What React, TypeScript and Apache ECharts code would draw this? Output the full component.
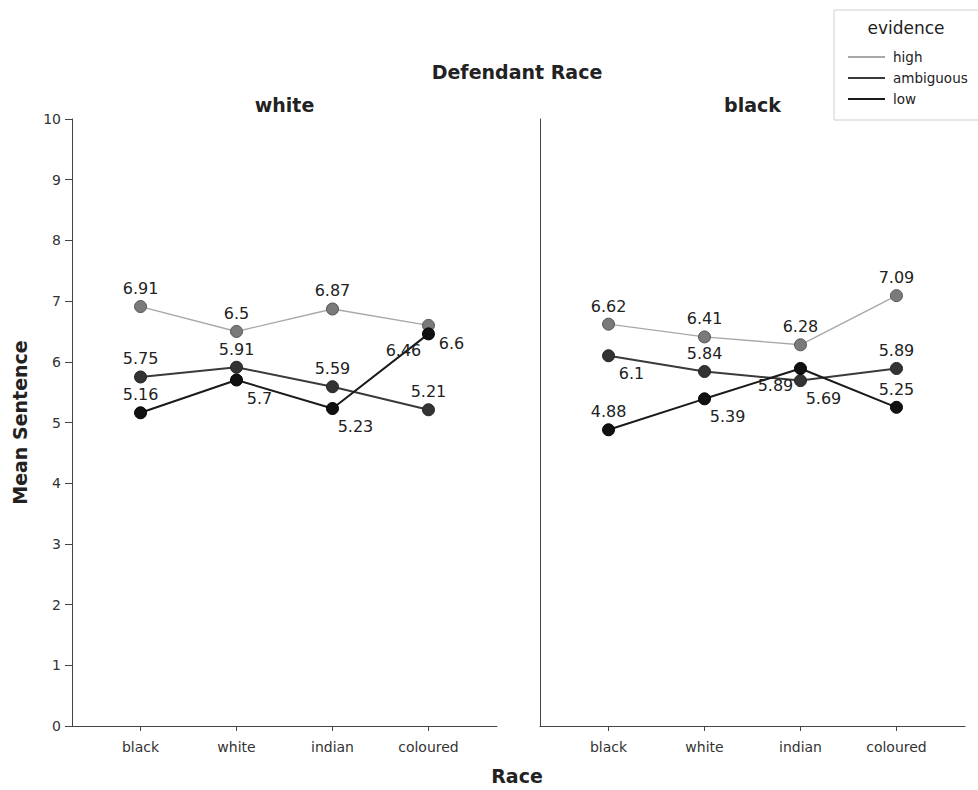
import React, { useEffect, useRef } from "react";
import * as echarts from "echarts";

const victimRace = ["black", "white", "indian", "coloured"];
const panels = ["white", "black"];
const evidenceLevels = ["high", "ambiguous", "low"];
const yTicks = [0, 1, 2, 3, 4, 5, 6, 7, 8, 9, 10];

// Defendant race: white
const whiteHigh = [6.91, 6.5, 6.87, 6.6];
const whiteAmbiguous = [5.75, 5.91, 5.59, 5.21];
const whiteLow = [5.16, 5.7, 5.23, 6.46];

// Defendant race: black
const blackHigh = [6.62, 6.41, 6.28, 7.09];
const blackAmbiguous = [6.1, 5.84, 5.69, 5.89];
const blackLow = [4.88, 5.39, 5.89, 5.25];

const panelData: Record<string, number[][]> = {
  white: [whiteHigh, whiteAmbiguous, whiteLow],
  black: [blackHigh, blackAmbiguous, blackLow],
};

// label placement codes (style only)
const labelPlacement: Record<string, string[][]> = {
  white: [
    ["t", "t", "t", "br"],
    ["t", "t", "t", "t"],
    ["t", "br", "br", "bl"],
  ],
  black: [
    ["t", "t", "t", "t"],
    ["br", "t", "br", "t"],
    ["t", "br", "bl", "t"],
  ],
};
const offsets: Record<string, number[]> = {
  t: [0, -18],
  br: [23, 18],
  bl: [-25, 17],
};

const lineColors = ["#a8a8a8", "#3a3a3a", "#1a1a1a"];
const lineWidths = [1.4, 2, 2];
const pointColors = ["#7a7a7a", "#333333", "#111111"];
const pointBorders = ["#555", "#222", "#000"];

const FONT = "DejaVu Sans, Verdana, sans-serif";

export default function App() {
  const ref = useRef<HTMLDivElement>(null);
  useEffect(() => {
    if (!ref.current) return;
    const chart = echarts.init(ref.current, null, { renderer: "svg" });
    const gridTop = 119;
    const gridHeight = 607;
    const gridWidth = 425;
    const grids = [
      { left: 72, top: gridTop, width: gridWidth, height: gridHeight },
      { left: 540, top: gridTop, width: gridWidth, height: gridHeight },
    ];
    const xAxes = panels.map((_, gi) => ({
      type: "value",
      gridIndex: gi,
      min: -0.714,
      max: 3.714,
      axisLine: { show: true, onZero: false, lineStyle: { color: "#444", width: 1 } },
      axisTick: {
        show: true,
        customValues: [0, 1, 2, 3],
        length: 5,
        lineStyle: { color: "#444" },
      },
      axisLabel: {
        show: true,
        customValues: [0, 1, 2, 3],
        formatter: (v: number) => victimRace[Math.round(v)] ?? "",
        fontSize: 14,
        color: "#333",
        fontFamily: FONT,
        margin: 14,
      },
      splitLine: { show: false },
    }));
    const yAxes = panels.map((_, gi) => ({
      type: "value",
      gridIndex: gi,
      min: yTicks[0],
      max: yTicks[yTicks.length - 1],
      interval: 1,
      axisLine: { show: true, onZero: false, lineStyle: { color: "#444", width: 1 } },
      axisTick: { show: gi === 0, length: 7, lineStyle: { color: "#444" } },
      axisLabel: {
        show: gi === 0,
        fontSize: 14,
        color: "#333",
        fontFamily: FONT,
        margin: 11,
      },
      splitLine: { show: false },
      name: gi === 0 ? "Mean Sentence" : "",
      nameLocation: "middle",
      nameGap: 43,
      nameTextStyle: {
        fontSize: 19,
        fontWeight: "bold",
        color: "#222",
        fontFamily: FONT,
      },
    }));
    const series: any[] = [];
    panels.forEach((p, gi) => {
      evidenceLevels.forEach((lvl, si) => {
        const vals = panelData[p][si];
        series.push({
          type: "line",
          name: lvl,
          xAxisIndex: gi,
          yAxisIndex: gi,
          symbol: "circle",
          symbolSize: 12,
          z: 2 + si,
          lineStyle: { color: lineColors[si], width: lineWidths[si] },
          itemStyle: {
            color: pointColors[si],
            borderColor: pointBorders[si],
            borderWidth: 1,
          },
          label: {
            show: true,
            position: "inside",
            fontSize: 16,
            color: "#222",
            fontFamily: FONT,
            formatter: (d: any) => String(d.value[1]),
          },
          data: vals.map((v, i) => ({
            value: [i, v],
            label: { offset: offsets[labelPlacement[p][si][i]] },
          })),
        });
      });
    });
    chart.setOption({
      animation: false,
      backgroundColor: "#fff",
      textStyle: { fontFamily: FONT },
      grid: grids,
      xAxis: xAxes,
      yAxis: yAxes,
      series,
      legend: {
        orient: "vertical",
        left: 848,
        top: 50,
        padding: 0,
        itemWidth: 37,
        itemHeight: 2,
        itemGap: 7,
        icon: "rect",
        textStyle: {
          fontSize: 13.5,
          color: "#222",
          fontFamily: FONT,
          padding: [0, 0, 0, 3],
        },
        data: evidenceLevels.map((lvl, i) => ({
          name: lvl,
          itemStyle: { color: lineColors[i], borderWidth: 0 },
        })),
      },
      graphic: [
        {
          type: "rect",
          shape: { x: 834, y: 10, width: 150, height: 110 },
          style: { fill: "#fff", stroke: "#cfcfcf", lineWidth: 1 },
          z: -1,
        },
        {
          type: "text",
          x: 906,
          y: 28,
          style: {
            text: "evidence",
            fontSize: 17,
            fill: "#222",
            fontFamily: FONT,
            align: "center",
            verticalAlign: "middle",
          },
        },
        {
          type: "text",
          x: 517,
          y: 72,
          style: {
            text: "Defendant Race",
            fontSize: 19,
            fontWeight: "bold",
            fill: "#222",
            fontFamily: FONT,
            align: "center",
            verticalAlign: "middle",
          },
        },
        ...panels.map((p, gi) => ({
          type: "text",
          x: grids[gi].left + gridWidth / 2,
          y: 105,
          style: {
            text: p,
            fontSize: 19,
            fontWeight: "bold",
            fill: "#222",
            fontFamily: FONT,
            align: "center",
            verticalAlign: "middle",
          },
        })),
        {
          type: "text",
          x: 517,
          y: 776,
          style: {
            text: "Race",
            fontSize: 19,
            fontWeight: "bold",
            fill: "#222",
            fontFamily: FONT,
            align: "center",
            verticalAlign: "middle",
          },
        },
      ],
    });
    return () => chart.dispose();
  }, []);
  return (
    <div
      ref={ref}
      style={{ position: "fixed", left: 0, top: 0, width: 978, height: 790 }}
    />
  );
}
